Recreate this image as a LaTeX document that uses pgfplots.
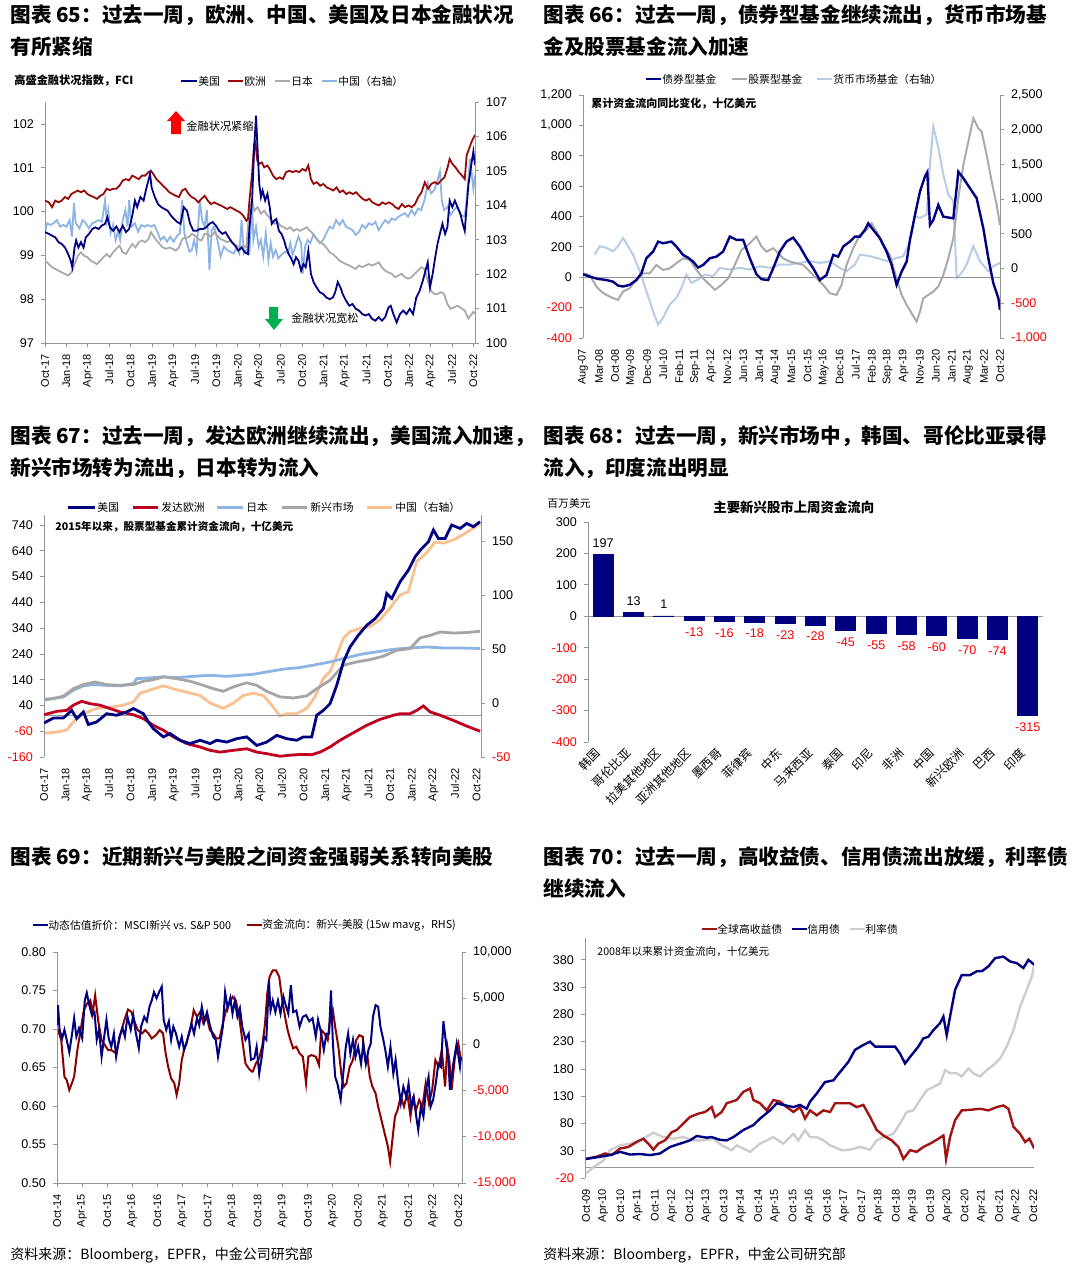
\documentclass[border=0pt]{standalone}
\usepackage{fontspec}
\setmainfont{Liberation Sans}
\newfontfamily\cjk{Noto Sans CJK SC}
\usepackage{pgfplots}
\pgfplotsset{compat=1.18}
\newcommand{\fs}[1]{\fontsize{#1}{#1}\selectfont}
\definecolor{navy}{RGB}{0,0,128}
\definecolor{axgray}{RGB}{150,150,150}
\definecolor{lgray}{RGB}{170,170,170}
\definecolor{lblue}{RGB}{142,180,227}
\definecolor{mmblue}{RGB}{184,204,228}
\definecolor{redA}{RGB}{150,10,10}
\definecolor{redB}{RGB}{192,0,32}
\definecolor{redC}{RGB}{140,0,0}
\definecolor{redD}{RGB}{160,20,20}
\definecolor{grayB}{RGB}{165,165,165}
\definecolor{grayC}{RGB}{205,205,205}
\definecolor{orng}{RGB}{250,192,143}
\definecolor{arrgreen}{RGB}{0,176,80}
\pgfplotsset{
  /pgf/number format/assume math mode=true,
  base/.style={scale only axis, anchor=south west, enlargelimits=false,
    scaled y ticks=false, scaled x ticks=false,
    axis line style={axgray, line width=0.5pt, -},
    tick style={axgray, line width=0.4pt}, major tick length=2pt, tick align=outside,
    tick label style={font=\fs{6.3}}},
  mon/.style={xticklabel style={font=\fs{5.5}, rotate=90, anchor=east}},
  leftax/.style={base, axis y line*=left, axis x line*=bottom},
  rightax/.style={base, axis y line*=right, axis x line=none},
  nox/.style={x axis line style={draw=none}, xtick style={draw=none}},
}
\begin{document}
\begin{tikzpicture}
\path (0,0) rectangle (540pt,-634.5pt);

% ---------- chart 65 ----------
\begin{axis}[rightax, at={(22.5pt,-171.5pt)}, width=215pt, height=120.5pt,
  xmin=0, xmax=60.22, ymin=100, ymax=107, ytick={100,...,107}]
\addplot[lblue, line width=0.9pt] coordinates {(0,103.23)(0.31,103.48)(0.76,103.43)(1.21,103.48)(1.66,103.57)(2.11,103.38)(2.56,103.43)(3.01,103.38)(3.46,103.57)(3.78,103.09)(4.05,104.06)(4.32,103.48)(4.81,103.33)(5.26,103.57)(5.71,103.48)(6.16,103.33)(6.61,103.48)(7.06,103.52)(7.51,103.57)(7.96,103.52)(8.41,104.15)(8.64,103.57)(8.86,103.86)(9.18,103.19)(9.54,103.43)(9.9,102.99)(10.21,103.23)(10.53,102.99)(10.89,103.57)(11.25,103.86)(11.56,103.38)(11.78,104.15)(12.14,103.38)(12.59,103.48)(13.04,103.23)(13.49,103.43)(13.94,103.38)(14.39,103.43)(14.84,103.38)(15.29,103.43)(15.74,103.23)(16.19,102.99)(16.64,103.09)(17.09,102.94)(17.54,103.09)(17.99,102.94)(18.44,103.09)(18.89,103.19)(19.21,104.15)(19.52,103.19)(19.88,102.9)(20.24,102.65)(20.56,102.7)(20.87,102.99)(21.23,102.65)(21.68,104.15)(22.0,103.57)(22.36,103.38)(22.67,103.86)(23.03,102.12)(23.34,103.28)(23.7,103.38)(24.15,102.99)(24.6,102.51)(25.05,102.8)(25.5,102.7)(25.95,102.65)(26.4,102.6)(26.85,102.75)(27.21,102.6)(27.53,103.57)(27.84,102.6)(28.2,102.7)(28.63,102.6)(29.0,104.15)(29.18,102.99)(29.55,103.38)(29.92,102.8)(30.24,102.99)(30.56,102.51)(30.92,103.19)(31.29,102.41)(31.61,102.9)(31.93,102.51)(32.3,102.7)(32.67,102.46)(33.12,102.56)(33.58,102.65)(34.04,102.6)(34.36,102.9)(34.68,102.56)(35.05,102.8)(35.5,103.09)(35.87,102.9)(36.1,102.02)(36.42,102.8)(36.79,102.99)(37.15,102.9)(37.57,103.14)(38.02,103.04)(38.48,102.9)(38.94,102.99)(39.4,103.19)(39.86,103.38)(40.32,103.33)(40.77,103.57)(41.23,103.43)(41.69,103.57)(42.15,103.38)(42.61,103.33)(43.06,103.28)(43.52,103.14)(43.98,103.23)(44.44,103.43)(44.9,103.33)(45.35,103.48)(45.81,103.43)(46.27,103.52)(46.73,103.28)(47.19,103.43)(47.64,103.57)(48.1,103.48)(48.56,103.62)(49.02,103.57)(49.48,103.67)(49.94,103.72)(50.39,103.77)(50.85,103.67)(51.31,103.86)(51.77,103.72)(52.23,103.91)(52.68,103.86)(53.14,104.15)(53.6,104.64)(54.06,104.35)(54.52,104.44)(54.97,104.73)(55.3,104.98)(55.57,104.15)(55.89,103.86)(56.35,103.96)(56.81,103.72)(57.26,103.86)(57.72,103.96)(58.18,103.72)(58.78,103.67)(59.06,104.2)(59.52,105.35)(59.99,104.48)(60.22,104.87)};
\end{axis}
\begin{axis}[leftax, mon, at={(22.5pt,-171.5pt)}, width=215pt, height=120.5pt,
  xmin=0, xmax=60.22, ymin=97, ymax=102.5, ytick={97,...,102},
  xtick={0,3,...,60},
  xticklabels={Oct-17,Jan-18,Apr-18,Jul-18,Oct-18,Jan-19,Apr-19,Jul-19,Oct-19,Jan-20,Apr-20,Jul-20,Oct-20,Jan-21,Apr-21,Jul-21,Oct-21,Jan-22,Apr-22,Jul-22,Oct-22}]
\addplot[lgray, line width=0.9pt] coordinates {(0,98.88)(0.54,98.8)(0.99,98.73)(1.44,98.69)(1.89,98.65)(2.34,98.61)(2.79,98.58)(3.24,98.54)(3.69,98.61)(4.14,98.8)(4.59,98.99)(5.04,99.07)(5.49,98.99)(5.94,98.96)(6.39,98.88)(6.84,98.84)(7.29,98.8)(7.74,98.88)(8.18,98.96)(8.64,99.03)(9.09,98.96)(9.54,99.07)(9.99,99.15)(10.44,99.22)(10.89,99.07)(11.34,99.03)(11.78,99.15)(12.23,99.26)(12.68,99.18)(13.13,99.3)(13.58,99.34)(14.03,99.3)(14.48,99.37)(14.84,99.53)(15.16,99.45)(15.61,99.34)(16.06,99.26)(16.51,99.18)(16.96,99.15)(17.41,99.18)(17.86,99.15)(18.31,99.11)(18.76,99.18)(19.21,99.37)(19.66,99.41)(20.11,99.41)(20.56,99.49)(21.01,99.45)(21.46,99.37)(21.91,99.34)(22.36,99.49)(22.8,99.49)(23.25,99.41)(23.7,99.53)(24.15,99.45)(24.6,99.37)(25.05,99.34)(25.5,99.3)(25.95,99.34)(26.4,99.26)(26.85,99.22)(27.3,99.18)(27.75,99.22)(28.2,99.18)(28.63,100.1)(29.0,100.25)(29.32,100.02)(29.78,100.1)(30.24,99.95)(30.7,100.02)(31.15,99.91)(31.61,99.83)(32.07,99.72)(32.53,99.76)(32.99,99.68)(33.44,99.64)(33.9,99.6)(34.36,99.64)(34.82,99.56)(35.28,99.6)(35.73,99.56)(36.19,99.6)(36.65,99.64)(37.11,99.56)(37.57,99.49)(38.02,99.37)(38.48,99.3)(38.94,99.26)(39.4,99.18)(39.86,99.07)(40.32,99.03)(40.77,98.96)(41.23,98.88)(41.69,98.84)(42.15,98.8)(42.61,98.77)(43.06,98.73)(43.52,98.69)(43.98,98.77)(44.44,98.73)(44.9,98.77)(45.35,98.8)(45.81,98.77)(46.27,98.8)(46.73,98.84)(47.19,98.73)(47.64,98.65)(48.1,98.61)(48.56,98.58)(49.02,98.5)(49.48,98.54)(49.94,98.58)(50.39,98.5)(50.85,98.47)(51.31,98.5)(51.77,98.58)(52.23,98.65)(52.68,98.73)(53.14,98.69)(53.6,98.42)(54.06,98.19)(54.52,98.12)(54.97,98.12)(55.43,98.16)(55.89,98.12)(56.35,97.89)(56.81,97.78)(57.26,97.81)(57.72,97.85)(58.18,97.81)(58.78,97.74)(59.29,97.56)(59.99,97.71)(60.22,97.67)};
\addplot[redA, line width=0.9pt] coordinates {(0,100.25)(0.54,100.21)(0.99,100.1)(1.44,100.25)(1.89,100.21)(2.34,100.25)(2.79,100.33)(3.24,100.29)(3.69,100.4)(4.14,100.44)(4.59,100.48)(5.04,100.44)(5.49,100.48)(5.94,100.4)(6.39,100.36)(6.84,100.33)(7.29,100.29)(7.74,100.36)(8.18,100.4)(8.64,100.52)(9.09,100.49)(9.54,100.52)(9.99,100.52)(10.44,100.59)(10.89,100.71)(11.34,100.74)(11.78,100.71)(12.23,100.82)(12.68,100.78)(13.13,100.74)(13.58,100.82)(14.03,100.82)(14.48,100.9)(14.84,100.93)(15.16,100.86)(15.61,100.74)(16.06,100.67)(16.51,100.59)(16.96,100.52)(17.41,100.44)(17.86,100.4)(18.31,100.36)(18.76,100.33)(19.21,100.48)(19.66,100.52)(20.11,100.4)(20.56,100.33)(21.01,100.29)(21.46,100.21)(21.91,100.29)(22.36,100.36)(22.8,100.25)(23.25,100.17)(23.7,100.21)(24.15,100.17)(24.6,100.14)(25.05,100.1)(25.5,100.06)(25.95,100.1)(26.4,100.06)(26.85,100.02)(27.3,99.98)(27.75,99.91)(28.2,99.79)(28.43,99.83)(28.63,100.25)(29.0,100.86)(29.28,101.54)(29.46,101.58)(29.73,101.16)(30.01,101.09)(30.37,101.12)(30.7,101.01)(31.15,101.05)(31.47,100.97)(31.93,100.82)(32.39,100.74)(32.85,100.78)(33.31,100.74)(33.76,100.9)(34.22,100.93)(34.68,100.9)(35.14,100.93)(35.6,100.9)(36.05,100.97)(36.51,100.93)(36.88,101.05)(37.24,100.74)(37.61,100.63)(38.07,100.67)(38.53,100.59)(38.99,100.63)(39.45,100.55)(39.9,100.52)(40.36,100.48)(40.82,100.55)(41.28,100.44)(41.74,100.48)(42.19,100.4)(42.65,100.44)(43.11,100.4)(43.57,100.44)(44.03,100.36)(44.49,100.29)(44.94,100.25)(45.4,100.29)(45.86,100.21)(46.32,100.17)(46.78,100.14)(47.23,100.21)(47.69,100.17)(48.15,100.21)(48.61,100.17)(49.07,100.1)(49.52,100.06)(49.98,100.17)(50.44,100.1)(50.9,100.14)(51.36,100.1)(51.81,100.17)(52.27,100.33)(52.73,100.44)(53.19,100.67)(53.65,100.52)(54.1,100.63)(54.56,100.67)(55.02,100.63)(55.48,100.71)(55.94,100.78)(56.39,101.01)(56.67,101.2)(57.04,101.09)(57.49,101.01)(57.95,100.9)(58.41,100.82)(58.78,100.74)(59.06,101.29)(59.76,101.6)(60.22,101.75)};
\addplot[navy, line width=0.9pt] coordinates {(0,99.53)(0.54,99.49)(0.99,99.45)(1.44,99.41)(1.89,99.3)(2.34,99.26)(2.79,99.18)(3.24,99.03)(3.6,98.88)(3.82,98.73)(4.14,99.18)(4.36,99.34)(4.68,99.18)(5.04,99.3)(5.4,99.18)(5.71,99.41)(6.16,99.49)(6.61,99.6)(7.06,99.64)(7.51,99.6)(7.96,99.68)(8.41,99.72)(8.73,99.87)(9.09,99.64)(9.54,99.56)(9.99,99.66)(10.44,99.53)(10.89,99.68)(11.34,99.53)(11.78,99.6)(12.23,99.91)(12.59,100.25)(12.91,100.1)(13.36,100.33)(13.81,100.25)(14.12,100.48)(14.48,100.71)(14.71,100.86)(14.93,100.55)(15.38,100.33)(15.83,100.17)(16.28,100.1)(16.73,100.06)(17.18,100.02)(17.63,99.91)(18.08,99.83)(18.53,99.76)(18.98,99.72)(19.43,100.1)(19.88,100.02)(20.33,99.72)(20.78,99.56)(21.23,99.56)(21.68,99.6)(22.13,99.6)(22.58,99.64)(23.03,99.72)(23.48,99.76)(23.93,99.68)(24.38,99.56)(24.83,99.49)(25.28,99.53)(25.73,99.41)(26.18,99.3)(26.63,99.22)(27.08,99.11)(27.53,99.18)(27.98,99.07)(28.43,99.03)(28.63,99.64)(29.0,100.25)(29.28,101.39)(29.55,102.19)(29.78,101.39)(30.01,100.63)(30.24,100.33)(30.47,100.48)(30.83,100.25)(31.15,100.4)(31.47,100.1)(31.75,99.72)(32.07,99.79)(32.39,99.83)(32.76,99.56)(33.12,99.49)(33.49,99.34)(33.76,99.18)(34.13,99.03)(34.5,98.92)(34.82,98.8)(35.14,98.96)(35.5,98.88)(35.87,98.65)(36.19,98.8)(36.51,98.73)(36.88,99.11)(37.24,98.58)(37.61,98.39)(38.02,98.27)(38.48,98.16)(38.94,98.12)(39.4,98.04)(39.86,98.0)(40.32,98.04)(40.64,98.16)(41.0,98.39)(41.37,98.27)(41.69,98.12)(42.15,97.97)(42.61,97.85)(43.06,97.89)(43.52,97.78)(43.98,97.74)(44.44,97.66)(44.9,97.63)(45.35,97.66)(45.81,97.55)(46.27,97.51)(46.73,97.59)(47.19,97.51)(47.64,97.59)(48.1,97.81)(48.42,97.85)(48.79,97.66)(49.25,97.47)(49.71,97.66)(50.16,97.74)(50.62,97.66)(51.08,97.78)(51.54,97.66)(52.0,98.04)(52.46,98.19)(52.91,98.42)(53.28,98.65)(53.6,98.84)(53.92,98.27)(54.29,98.58)(54.65,98.96)(54.97,99.26)(55.3,99.49)(55.66,99.72)(56.03,99.49)(56.35,99.64)(56.67,100.25)(57.04,100.1)(57.4,100.25)(57.77,100.1)(58.18,99.95)(58.5,99.72)(58.78,99.56)(59.29,100.6)(59.76,101.14)(59.99,101.37)(60.22,101.06)};
\end{axis}

% ---------- chart 66 ----------
\begin{axis}[rightax, at={(291.5pt,-169pt)}, width=208.5pt, height=121.5pt,
  xmin=0, xmax=182, ymin=-1000, ymax=2500, ytick={-1000,-500,...,2500},
  yticklabels={{\color{red}-1,000},{\color{red}-500},0,500,{1,000},{1,500},{2,000},{2,500}}]
\addplot[mmblue, line width=1pt] coordinates {(5.1,200)(7.28,322)(10.19,298)(13.1,250)(15.29,322)(17.47,442)(19.66,322)(21.84,202)(24.75,-38)(27.66,-326)(30.58,-614)(32.76,-806)(34.94,-710)(37.86,-518)(40.77,-422)(42.95,-278)(45.14,-86)(47.32,-206)(50.23,-158)(53.15,-86)(56.79,-110)(59.7,10)(64.07,-14)(68.43,10)(72.8,-14)(77.17,34)(81.54,10)(85.91,58)(90.27,58)(94.64,82)(99.01,106)(103.38,82)(107.75,106)(112.12,10)(115.03,-38)(118.67,58)(120.85,202)(125.22,178)(128.13,154)(132.5,106)(136.87,154)(139.78,178)(142.69,394)(144.88,754)(147.06,730)(149.97,778)(151.43,1498)(152.88,2050)(155.07,1738)(157.25,1354)(159.43,1066)(161.62,970)(163.07,-134)(165.26,-62)(167.44,58)(170.36,322)(173.27,106)(176.91,-38)(179.09,34)(182.0,82)};
\end{axis}
\begin{axis}[leftax, nox, mon, at={(291.5pt,-169pt)}, width=208.5pt, height=121.5pt,
  xmin=0, xmax=182, ymin=-400, ymax=1200, ytick={-400,-200,...,1200},
  yticklabels={{\color{red}-400},{\color{red}-200},0,200,400,600,800,{1,000},{1,200}},
  xtick={0,7,...,182},
  xticklabels={Aug-07,Mar-08,Oct-08,May-09,Dec-09,Jul-10,Feb-11,Sep-11,Apr-12,Nov-12,Jun-13,Jan-14,Aug-14,Mar-15,Oct-15,May-16,Dec-16,Jul-17,Feb-18,Sep-18,Apr-19,Nov-19,Jun-20,Jan-21,Aug-21,Mar-22,Oct-22}]
\draw[axgray, line width=0.5pt] (axis cs:0,0) -- (axis cs:182,0);
\addplot[lgray, line width=1pt] coordinates {(0,26)(2.91,15)(5.82,-61)(8.01,-94)(10.19,-116)(13.1,-138)(15.29,-149)(17.47,-94)(20.38,-72)(23.3,-18)(26.21,26)(29.12,26)(32.03,81)(34.94,48)(37.86,59)(40.77,92)(43.68,125)(46.59,114)(49.51,48)(52.42,-7)(55.33,-50)(57.51,-83)(60.43,-50)(63.34,-7)(66.25,81)(69.16,180)(72.07,213)(75.71,268)(77.9,202)(80.08,169)(83.0,191)(85.18,158)(87.36,125)(90.27,103)(93.19,92)(96.1,81)(99.01,37)(101.92,-7)(104.83,-50)(107.75,-105)(110.66,-116)(112.84,-50)(115.03,81)(117.94,191)(120.85,279)(123.76,312)(125.95,355)(128.13,301)(131.04,213)(133.95,147)(136.87,-7)(139.05,-116)(141.24,-182)(143.42,-237)(145.6,-292)(147.06,-226)(148.51,-138)(150.7,-116)(152.88,-94)(155.07,-61)(157.25,15)(159.43,125)(161.62,257)(163.8,520)(165.99,739)(168.17,893)(170.36,1047)(172.54,981)(174.0,959)(176.18,805)(178.37,630)(180.55,476)(182.0,344)};
\addplot[navy, line width=1.2pt] coordinates {(0,20)(2.91,4)(6.55,-11)(10.19,-18)(13.1,-29)(15.29,-55)(17.47,-61)(20.38,-50)(23.3,-18)(25.48,26)(27.66,125)(30.58,169)(32.76,235)(34.94,224)(38.58,235)(40.77,202)(43.68,147)(45.86,129)(48.05,103)(50.23,64)(52.42,81)(55.33,125)(58.24,136)(61.15,169)(64.07,268)(66.98,246)(69.89,246)(72.8,125)(75.71,20)(77.9,-13)(80.81,-18)(83.0,59)(85.91,169)(88.82,235)(91.73,261)(94.64,202)(97.55,125)(100.47,59)(103.38,-18)(106.29,15)(109.2,147)(111.39,136)(113.57,202)(116.48,235)(118.67,268)(120.85,268)(123.04,312)(124.49,355)(126.67,312)(129.59,257)(132.5,169)(134.68,81)(136.87,-50)(139.05,37)(141.24,103)(142.69,246)(144.88,410)(147.06,564)(149.24,663)(150.26,691)(151.43,344)(152.88,377)(155.07,476)(157.25,399)(161.62,388)(163.07,586)(163.8,695)(165.99,652)(168.9,586)(171.81,520)(174.72,322)(176.91,125)(179.09,-39)(181.28,-138)(182.0,-215)};
\end{axis}

% ---------- chart 67 ----------
\begin{axis}[rightax, at={(22pt,-378.5pt)}, width=218.5pt, height=121pt,
  xmin=0, xmax=60.6, ymin=-50, ymax=174, ytick={-50,0,50,100,150},
  yticklabels={{\color{red}-50},0,50,100,150}]
\addplot[orng, line width=1.4pt] coordinates {(0,-28)(1.76,-27)(3.14,-25)(4.3,-16)(5.46,-10)(7.3,-5)(9.15,-4)(11.0,-2)(12.39,1)(13.31,9)(14.7,12)(16.55,16)(17.94,13)(19.79,10)(21.64,7)(23.02,0)(24.87,-5)(26.26,0)(27.65,7)(29.03,9)(30.42,7)(31.58,-2)(32.73,-12)(33.66,-10)(35.04,-10)(36.43,-5)(37.59,6)(38.74,23)(39.67,29)(40.59,44)(41.52,60)(42.44,66)(43.83,69)(45.22,71)(46.6,77)(47.99,88)(49.38,100)(50.53,103)(51.69,131)(53.07,139)(54.23,149)(55.39,148)(56.77,151)(58.16,156)(59.55,162)(60.47,166)};
\end{axis}
\begin{axis}[leftax, nox, mon, at={(22pt,-378.5pt)}, width=218.5pt, height=121pt,
  xmin=0, xmax=60.6, ymin=-160, ymax=779, ytick={-160,-60,...,740},
  yticklabels={{\color{red}-160},{\color{red}-60},40,140,240,340,440,540,640,740},
  xtick={0,3,...,60},
  xticklabels={Oct-17,Jan-18,Apr-18,Jul-18,Oct-18,Jan-19,Apr-19,Jul-19,Oct-19,Jan-20,Apr-20,Jul-20,Oct-20,Jan-21,Apr-21,Jul-21,Oct-21,Jan-22,Apr-22,Jul-22,Oct-22}]
\draw[axgray, line width=0.5pt] (axis cs:0,0) -- (axis cs:60.6,0);
\addplot[lblue, line width=1.4pt] coordinates {(0,60)(1.29,67)(2.68,73)(4.07,99)(5.46,116)(6.84,121)(8.69,118)(10.54,116)(12.39,125)(12.85,144)(14.7,147)(16.55,151)(18.4,148)(20.71,153)(23.02,157)(25.34,153)(27.18,157)(29.03,161)(30.88,170)(33.2,181)(35.5,187)(37.82,199)(39.67,209)(41.52,222)(43.83,238)(46.14,248)(48.45,258)(50.76,263)(53.07,267)(55.39,263)(57.7,263)(60.47,261)};
\addplot[grayB, line width=1.4pt] coordinates {(0,64)(1.29,67)(2.68,76)(4.07,105)(5.46,121)(7.07,131)(8.69,121)(10.54,118)(12.39,121)(13.78,134)(15.16,140)(16.55,151)(18.4,144)(20.25,134)(22.1,118)(23.49,105)(24.87,95)(26.26,112)(28.11,128)(29.5,118)(30.88,95)(32.73,73)(34.58,69)(36.43,77)(37.82,105)(39.67,138)(41.52,196)(43.37,209)(45.22,218)(47.06,231)(48.91,254)(50.76,261)(52.15,302)(53.54,312)(54.93,325)(56.77,321)(58.62,323)(60.47,328)};
\addplot[redB, line width=1.4pt] coordinates {(0,4)(1.76,17)(3.14,21)(4.07,41)(5.22,56)(6.38,47)(7.77,41)(9.15,28)(10.54,15)(12.39,4)(13.78,-11)(15.16,-37)(16.55,-56)(17.94,-82)(19.79,-108)(21.64,-121)(23.02,-134)(24.41,-141)(26.26,-134)(28.11,-128)(29.5,-141)(30.89,-147)(32.73,-157)(34.12,-153)(35.5,-150)(37.12,-151)(38.28,-141)(39.67,-121)(41.05,-95)(42.9,-66)(44.75,-37)(46.6,-14)(48.45,2)(49.38,8)(50.76,8)(51.69,21)(52.61,38)(53.54,15)(54.93,2)(56.77,-18)(58.62,-40)(60.47,-60)};
\addplot[navy, line width=1.4pt] coordinates {(0,-28)(1.29,-9)(2.68,-9)(3.84,21)(4.53,-11)(5.46,15)(6.15,-34)(7.3,-24)(8.69,8)(10.08,2)(11.47,15)(12.39,28)(13.78,8)(14.47,-24)(15.16,-50)(16.55,-82)(17.48,-69)(18.86,-95)(20.25,-108)(21.64,-95)(23.02,-108)(23.95,-95)(25.34,-102)(26.72,-89)(28.11,-82)(29.5,-115)(30.89,-102)(32.27,-76)(33.66,-89)(35.04,-95)(35.97,-82)(37.12,-82)(37.82,2)(38.74,21)(39.67,47)(40.59,118)(41.52,209)(42.44,267)(43.6,313)(44.75,351)(45.91,377)(47.06,416)(47.53,474)(48.22,455)(49.38,520)(50.53,565)(51.46,617)(52.38,649)(53.31,675)(54.0,721)(54.69,688)(55.62,688)(56.54,740)(57.7,727)(58.62,746)(59.55,734)(60.47,753)};
\end{axis}

% ---------- chart 68 ----------
\begin{axis}[leftax, nox, at={(294pt,-371pt)}, width=227.5pt, height=110pt,
  xmin=-0.5, xmax=14.5, ymin=-400, ymax=300, ytick={-400,-300,...,300},
  yticklabels={{\color{red}-400},{\color{red}-300},{\color{red}-200},{\color{red}-100},0,100,200,300},
  xtick={0,...,14},
  xticklabels={韩国,哥伦比亚,拉美其他地区,亚洲其他地区,墨西哥,菲律宾,中东,马来西亚,泰国,印尼,非洲,中国,新兴欧洲,巴西,印度},
  xticklabel style={font=\cjk\fs{6}, rotate=45, anchor=east},
  ybar, bar width=10pt, nodes near coords, nodes near coords align={vertical}]
\draw[axgray, line width=0.5pt] (axis cs:-0.5,0) -- (axis cs:14.5,0);
\addplot[fill=navy, draw=navy, bar shift=0pt, every node near coord/.append style={font=\fs{6.3}, text=black}] coordinates {(0,197)(1,13)(2,1)};
\addplot[fill=navy, draw=navy, bar shift=0pt, every node near coord/.append style={font=\fs{6.3}, text=red}] coordinates {(3,-13)(4,-16)(5,-18)(6,-23)(7,-28)(8,-45)(9,-55)(10,-58)(11,-60)(12,-70)(13,-74)(14,-315)};
\end{axis}

% ---------- chart 69 ----------
\begin{axis}[rightax, at={(28.5pt,-591.5pt)}, width=202.5pt, height=115.5pt,
  xmin=0, xmax=96.9, ymin=-15000, ymax=10000, ytick={-15000,-10000,...,10000},
  yticklabels={{\color{red}-15,000},{\color{red}-10,000},{\color{red}-5,000},0,{5,000},{10,000}}]
\addplot[redC, line width=1pt] coordinates {(0,1727)(0.23,1547)(1.01,468)(1.78,-3489)(2.32,-3849)(2.94,-4928)(3.56,-4208)(4.1,-3489)(4.87,-611)(5.65,1547)(6.42,3705)(7.19,4425)(7.97,4784)(8.51,3345)(9.13,5324)(9.9,2446)(10.67,468)(11.45,-72)(12.22,-611)(12.99,-611)(14.15,-971)(15.31,1367)(16.24,2806)(17.01,3777)(17.79,3525)(18.56,2446)(19.33,1547)(20.34,1187)(21.11,1547)(21.89,1187)(22.66,648)(23.67,1007)(24.59,1547)(25.37,1187)(25.99,-971)(26.6,-2410)(27.3,-3669)(28.07,-4208)(28.62,-5467)(29.23,-4208)(29.85,-1690)(30.39,-611)(31.17,468)(31.94,1727)(32.71,3705)(33.49,2986)(34.26,3525)(35.03,2266)(35.81,2986)(36.58,1547)(37.36,1187)(38.13,648)(38.9,648)(39.68,2266)(40.45,3705)(41.22,4425)(42.0,5144)(42.77,4784)(43.54,3166)(44.32,468)(45.09,-2050)(45.86,-2590)(46.64,-2949)(46.83,-2949)(47.6,-2050)(48.38,-1510)(49.15,-72)(49.77,2266)(50.31,5504)(50.85,7302)(51.62,8022)(52.4,8022)(53.17,7302)(53.79,5144)(54.56,2986)(55.18,1547)(55.72,648)(56.5,-431)(57.27,-252)(58.04,-971)(58.82,-1330)(59.59,-4208)(60.13,-1330)(60.9,-1151)(61.91,-1330)(62.68,-2230)(63.23,1547)(64.0,1187)(64.77,468)(65.39,2986)(66.01,3705)(66.55,1906)(67.32,-252)(68.1,-3489)(68.64,-4568)(69.26,-4208)(70.03,-2410)(70.81,-1690)(71.58,468)(72.35,1007)(73.13,827)(73.74,-1690)(74.28,-1330)(74.83,-3489)(75.45,-4568)(76.22,-5288)(76.84,-6727)(77.61,-8166)(78.38,-9604)(79.16,-11043)(79.7,-12661)(80.24,-10323)(80.86,-7806)(81.48,-7086)(82.25,-5647)(83.02,-6727)(83.8,-5288)(84.57,-7806)(85.11,-6007)(85.89,-7086)(86.66,-6007)(87.43,-6727)(88.21,-4208)(88.98,-6367)(89.76,-4928)(90.53,-1690)(91.3,-2410)(92.07,-611)(92.85,-4568)(93.39,-252)(93.86,-1690)(94.41,-4930)(95.21,-1330)(96.01,108)(96.65,-1690)};
\end{axis}
\begin{axis}[leftax, mon, at={(28.5pt,-591.5pt)}, width=202.5pt, height=115.5pt,
  xmin=0, xmax=96.9, ymin=0.5, ymax=0.8, ytick={0.5,0.55,...,0.81},
  yticklabels={0.50,0.55,0.60,0.65,0.70,0.75,0.80},
  xtick={0,6,...,96},
  xticklabels={Oct-14,Apr-15,Oct-15,Apr-16,Oct-16,Apr-17,Oct-17,Apr-18,Oct-18,Apr-19,Oct-19,Apr-20,Oct-20,Apr-21,Oct-21,Apr-22,Oct-22}]
\addplot[navy, line width=1pt] coordinates {(0,0.705)(0.23,0.731)(0.62,0.699)(1.24,0.688)(1.78,0.699)(2.32,0.686)(2.94,0.670)(3.56,0.692)(4.1,0.714)(4.64,0.690)(5.26,0.701)(6.03,0.688)(6.65,0.737)(7.12,0.747)(7.73,0.731)(8.35,0.718)(8.97,0.722)(9.51,0.686)(10.05,0.699)(10.67,0.664)(11.29,0.690)(11.83,0.712)(12.37,0.688)(12.99,0.677)(13.61,0.694)(14.15,0.664)(14.93,0.690)(15.7,0.701)(16.24,0.690)(16.86,0.716)(17.63,0.699)(18.25,0.718)(18.79,0.697)(19.57,0.675)(20.11,0.703)(20.88,0.716)(21.5,0.710)(22.12,0.729)(22.66,0.737)(23.2,0.748)(23.82,0.740)(24.44,0.748)(25.06,0.755)(25.52,0.712)(26.14,0.699)(26.76,0.710)(27.3,0.686)(27.84,0.703)(28.46,0.694)(29.23,0.677)(29.85,0.690)(30.39,0.673)(30.94,0.681)(31.55,0.694)(32.17,0.707)(32.79,0.694)(33.49,0.714)(34.03,0.705)(34.65,0.729)(35.27,0.710)(35.89,0.722)(36.58,0.705)(37.36,0.690)(37.97,0.686)(38.52,0.664)(39.13,0.684)(39.68,0.703)(40.22,0.748)(40.84,0.727)(41.45,0.740)(41.99,0.720)(42.54,0.737)(43.16,0.716)(43.77,0.727)(44.32,0.703)(45.09,0.686)(45.86,0.694)(46.4,0.660)(47.22,0.662)(47.76,0.677)(48.38,0.642)(49.0,0.664)(49.54,0.690)(50.08,0.686)(50.7,0.763)(51.08,0.724)(51.62,0.737)(52.24,0.722)(52.86,0.737)(53.48,0.720)(54.18,0.742)(54.72,0.731)(55.34,0.720)(55.96,0.757)(56.5,0.722)(57.27,0.724)(58.04,0.703)(58.82,0.716)(59.59,0.718)(60.36,0.710)(61.14,0.714)(61.91,0.690)(62.45,0.712)(63.23,0.694)(63.84,0.673)(64.46,0.694)(65.08,0.694)(65.55,0.750)(66.01,0.681)(66.55,0.638)(67.09,0.629)(67.87,0.608)(68.48,0.642)(69.1,0.677)(69.65,0.694)(70.19,0.668)(70.81,0.686)(71.42,0.664)(72.04,0.677)(72.74,0.655)(73.28,0.681)(73.9,0.655)(74.52,0.673)(75.06,0.681)(75.6,0.716)(76.22,0.731)(76.84,0.729)(77.38,0.703)(77.92,0.690)(78.54,0.673)(79.16,0.651)(79.78,0.677)(80.47,0.642)(81.01,0.660)(81.63,0.629)(82.25,0.604)(82.87,0.625)(83.57,0.612)(84.11,0.629)(84.73,0.599)(85.35,0.612)(85.96,0.586)(86.43,0.569)(87.05,0.599)(87.67,0.586)(88.28,0.621)(88.9,0.638)(89.37,0.599)(89.99,0.608)(90.61,0.629)(91.23,0.655)(91.84,0.651)(92.46,0.710)(93.08,0.681)(93.62,0.660)(94.01,0.621)(94.81,0.655)(95.61,0.681)(96.41,0.651)(96.65,0.664)};
\end{axis}

% ---------- chart 70 ----------
\begin{axis}[leftax, nox, mon, at={(292.5pt,-589pt)}, width=224.5pt, height=120pt,
  xmin=-0.35, xmax=156.2, ymin=-20, ymax=420, ytick={-20,30,...,380},
  yticklabels={{\color{red}-20},30,80,130,180,230,280,330,380},
  xtick={0,6,...,156},
  xticklabels={Oct-09,Apr-10,Oct-10,Apr-11,Oct-11,Apr-12,Oct-12,Apr-13,Oct-13,Apr-14,Oct-14,Apr-15,Oct-15,Apr-16,Oct-16,Apr-17,Oct-17,Apr-18,Oct-18,Apr-19,Oct-19,Apr-20,Oct-20,Apr-21,Oct-21,Apr-22,Oct-22}]
\draw[axgray, line width=0.5pt] (axis cs:-0.35,0) -- (axis cs:156.2,0);
\addplot[grayC, line width=1.2pt] coordinates {(0,-12)(2.56,0)(6.04,12)(8.37,31)(11.86,40)(15.34,43)(18.83,49)(23.48,63)(26.97,55)(30.45,52)(33.94,55)(37.43,49)(40.92,49)(44.4,52)(47.31,40)(50.8,31)(52.54,40)(54.86,34)(57.19,28)(60.68,43)(63.0,49)(65.33,55)(68.81,43)(72.3,61)(74.04,49)(76.37,68)(78.11,55)(80.44,55)(82.76,49)(85.09,40)(89.15,31)(92.06,32)(95.55,37)(99.04,32)(101.36,49)(103.69,55)(107.17,61)(109.5,80)(111.82,101)(114.15,104)(116.47,123)(118.8,141)(121.12,147)(123.45,153)(125.19,178)(126.93,172)(129.26,172)(131.0,166)(133.33,181)(135.07,172)(137.39,166)(139.72,178)(142.04,187)(144.37,199)(146.69,221)(149.02,251)(151.34,294)(153.67,325)(155.41,349)(156.3,371)};
\addplot[redD, line width=1.2pt] coordinates {(0,15)(3.72,19)(6.63,25)(8.95,22)(11.86,34)(14.76,37)(17.67,46)(19.99,52)(21.74,43)(23.48,32)(25.22,43)(27.55,49)(29.87,64)(31.62,68)(33.94,80)(36.27,92)(39.17,98)(41.5,101)(43.82,110)(44.98,92)(47.31,101)(49.05,117)(52.54,123)(54.86,138)(57.19,144)(58.35,123)(60.68,117)(63.0,104)(65.33,123)(67.65,120)(69.98,110)(72.3,101)(74.62,110)(76.37,89)(78.11,104)(80.44,95)(82.76,104)(85.09,101)(86.83,117)(89.15,117)(92.06,117)(94.39,110)(96.71,114)(99.04,92)(101.36,68)(103.69,58)(106.59,49)(108.92,37)(110.66,15)(112.98,31)(115.31,28)(117.63,37)(119.96,43)(122.86,52)(124.61,58)(125.54,15)(126.93,55)(128.68,86)(131.0,104)(133.91,105)(137.39,107)(140.3,104)(143.21,110)(145.53,113)(147.27,107)(149.02,74)(151.34,61)(153.09,46)(154.6,52)(156.3,34)};
\addplot[navy, line width=1.2pt] coordinates {(0,15)(4.88,19)(8.37,22)(11.86,28)(15.34,23)(18.83,24)(22.32,22)(25.81,25)(29.29,37)(32.78,43)(36.27,49)(38.59,57)(42.08,54)(43.82,55)(46.73,50)(49.05,49)(51.38,55)(54.86,68)(58.35,77)(60.68,89)(64.16,104)(66.49,117)(68.81,114)(72.3,110)(74.62,114)(76.95,107)(78.11,120)(80.44,135)(83.34,156)(86.25,159)(89.15,178)(91.48,193)(93.8,215)(96.71,224)(99.04,230)(100.78,221)(103.69,221)(107.75,221)(109.5,208)(111.24,190)(112.98,202)(115.89,221)(117.63,236)(119.38,239)(121.12,251)(123.45,264)(124.61,276)(125.77,242)(126.93,276)(128.68,325)(131.0,352)(133.91,352)(136.23,359)(137.98,359)(140.3,368)(142.62,383)(145.53,386)(147.86,377)(150.18,374)(152.5,365)(154.25,380)(156.3,371)};
\end{axis}

% ---------- texts ----------
\begin{scope}[x=0.5pt, y=-0.5pt, every node/.style={inner sep=0pt, anchor=west}]
\node at (10,15) {\cjk\bfseries\fs{10.3}图表 65：过去一周，欧洲、中国、美国及日本金融状况};
\node at (10,47) {\cjk\bfseries\fs{10.3}有所紧缩};
\node at (543,15) {\cjk\bfseries\fs{10.3}图表 66：过去一周，债券型基金继续流出，货币市场基};
\node at (543,47) {\cjk\bfseries\fs{10.3}金及股票基金流入加速};
\node at (10,436) {\cjk\bfseries\fs{10.3}图表 67：过去一周，发达欧洲继续流出，美国流入加速，};
\node at (10,468) {\cjk\bfseries\fs{10.3}新兴市场转为流出，日本转为流入};
\node at (543,436) {\cjk\bfseries\fs{10.3}图表 68：过去一周，新兴市场中，韩国、哥伦比亚录得};
\node at (543,468) {\cjk\bfseries\fs{10.3}流入，印度流出明显};
\node at (10,857) {\cjk\bfseries\fs{10.3}图表 69：近期新兴与美股之间资金强弱关系转向美股};
\node at (543,857) {\cjk\bfseries\fs{10.3}图表 70：过去一周，高收益债、信用债流出放缓，利率债};
\node at (543,889) {\cjk\bfseries\fs{10.3}继续流入};
% chart 65 legend
\node at (14,81) {\cjk\bfseries\fs{5.6}高盛金融状况指数，FCI};
\draw[navy, line width=1pt] (181,81) -- (197,81); \node at (198,81) {\cjk\fs{5.4}美国};
\draw[redA, line width=1pt] (228,81) -- (243,81); \node at (244,81) {\cjk\fs{5.4}欧洲};
\draw[lgray, line width=1pt] (275,81) -- (290,81); \node at (291,81) {\cjk\fs{5.4}日本};
\draw[lblue, line width=1pt] (322,81) -- (337,81); \node at (338,81) {\cjk\fs{5.4}中国（右轴）};
\fill[red] (171,134) -- (171,121) -- (167,121) -- (176,111) -- (185,121) -- (181,121) -- (181,134) -- cycle;
\node at (186,126) {\cjk\fs{5.6}金融状况紧缩};
\fill[arrgreen] (269,307) -- (269,319) -- (265,319) -- (274,330) -- (283,319) -- (278,319) -- (278,307) -- cycle;
\node at (291,318) {\cjk\fs{5.6}金融状况宽松};
% chart 66 legend
\draw[navy, line width=1.2pt] (646,79) -- (661,79); \node at (662,79) {\cjk\fs{5.4}债券型基金};
\draw[lgray, line width=1.2pt] (732,79) -- (747,79); \node at (748,79) {\cjk\fs{5.4}股票型基金};
\draw[mmblue, line width=1.2pt] (817,79) -- (832,79); \node at (833,79) {\cjk\fs{5.4}货币市场基金（右轴）};
\node at (591,104) {\cjk\bfseries\fs{5.5}累计资金流向同比变化，十亿美元};
% chart 67 legend
\draw[navy, line width=1.5pt] (68,507) -- (95,507); \node at (97,507) {\cjk\fs{5.4}美国};
\draw[redB, line width=1.5pt] (133,507) -- (158,507); \node at (161,507) {\cjk\fs{5.4}发达欧洲};
\draw[lblue, line width=1.5pt] (217,507) -- (243,507); \node at (246,507) {\cjk\fs{5.4}日本};
\draw[grayB, line width=1.5pt] (282,507) -- (307,507); \node at (310,507) {\cjk\fs{5.4}新兴市场};
\draw[orng, line width=1.5pt] (367,507) -- (392,507); \node at (395,507) {\cjk\fs{5.4}中国（右轴）};
\node at (55,527) {\cjk\bfseries\fs{5.3}2015年以来，股票型基金累计资金流向，十亿美元};
% chart 68 texts
\node at (547,503) {\cjk\fs{5.4}百万美元};
\node at (713,507) {\cjk\bfseries\fs{6.7}主要新兴股市上周资金流向};
% chart 69 legend
\draw[navy, line width=1pt] (33,925) -- (48,925); \node at (48,925) {\cjk\fs{5.4}动态估值折价：MSCI新兴 vs. S\&P 500};
\draw[redC, line width=1pt] (247,925) -- (262,925); \node at (262,925) {\cjk\fs{5.4}资金流向：新兴-美股 (15w mavg，RHS)};
% chart 70 legend
\draw[redD, line width=1.2pt] (702,929) -- (717,929); \node at (717,929) {\cjk\fs{5.4}全球高收益债};
\draw[navy, line width=1.2pt] (792,929) -- (807,929); \node at (807,929) {\cjk\fs{5.4}信用债};
\draw[grayC, line width=1.2pt] (850,929) -- (865,929); \node at (865,929) {\cjk\fs{5.4}利率债};
\node at (597,952) {\cjk\fs{5.3}2008年以来累计资金流向，十亿美元};
% sources
\node at (10,1255) {\cjk\fs{7}资料来源：Bloomberg，EPFR，中金公司研究部};
\node at (543,1255) {\cjk\fs{7}资料来源：Bloomberg，EPFR，中金公司研究部};
\end{scope}
\end{tikzpicture}
\end{document}
